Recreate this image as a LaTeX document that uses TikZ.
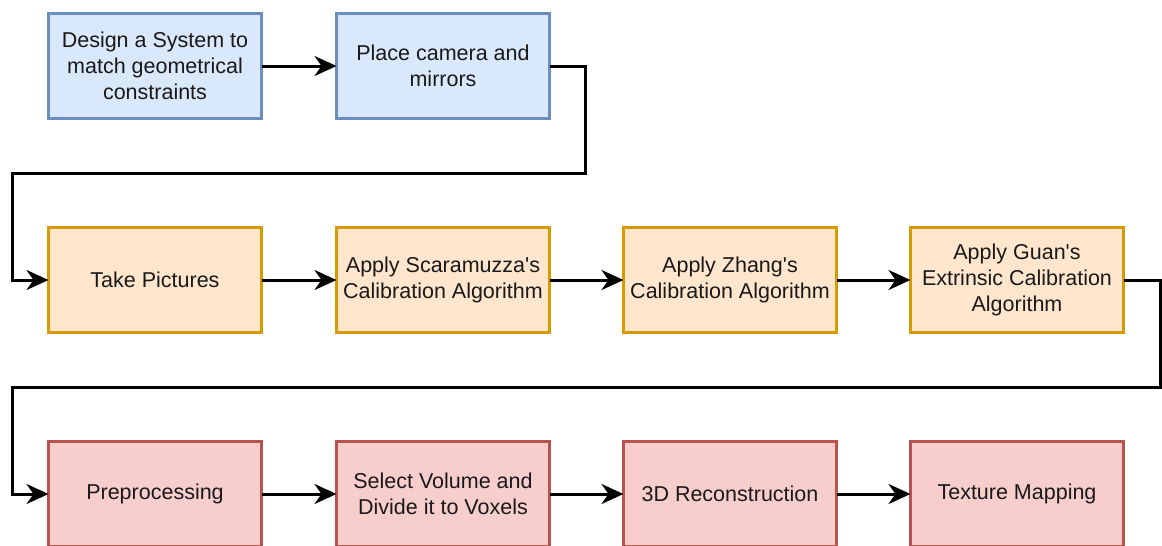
\documentclass[tikz,border=0pt]{standalone}
\usepackage{fontspec}
\setmainfont{Liberation Sans}
\usetikzlibrary{arrows.meta}
\definecolor{bfill}{HTML}{DAE8FC}\definecolor{bline}{HTML}{6C8EBF}
\definecolor{ofill}{HTML}{FFE6CC}\definecolor{oline}{HTML}{D79B00}
\definecolor{rfill}{HTML}{F8CECC}\definecolor{rline}{HTML}{B85450}
\begin{document}
\begin{tikzpicture}[x=1pt,y=-1pt,line join=miter,
  stepbox/.style={draw,line width=3pt,minimum width=213pt,minimum height=105pt,inner sep=0pt,outer sep=0pt,anchor=center,align=center,font=\fontsize{21.5pt}{26pt}\selectfont,text=black!90},
  bluebox/.style={stepbox,fill=bfill,draw=bline},
  orangebox/.style={stepbox,fill=ofill,draw=oline},
  redbox/.style={stepbox,fill=rfill,draw=rline},
  conn/.style={line width=3pt,-{Stealth[length=22pt,width=20pt,inset=7pt]}}]
\useasboundingbox (0,0) rectangle (1162,546);
\clip (0,0) rectangle (1162,546);
\node[bluebox] (a) at (155,66) {Design a System to\\match geometrical\\constraints};
\node[bluebox] (b) at (443,66) {Place camera and\\mirrors};
\node[orangebox] (c) at (155,280) {Take Pictures};
\node[orangebox] (d) at (443,280) {Apply Scaramuzza\textquotesingle s\\Calibration Algorithm};
\node[orangebox] (e) at (730,280) {Apply Zhang\textquotesingle s\\Calibration Algorithm};
\node[orangebox] (f) at (1017,280) {Apply Guan\textquotesingle s\\Extrinsic Calibration\\Algorithm};
\node[redbox] (g) at (155,494) {Preprocessing};
\node[redbox] (h) at (443,494) {Select Volume and\\Divide it to Voxels};
\node[redbox] (i) at (730,494) {3D Reconstruction};
\node[redbox] (j) at (1017,494) {Texture Mapping};
\coordinate (b1) at (585,66);
\coordinate (b2) at (585,173);
\coordinate (b3) at (12,173);
\coordinate (b4) at (12,280);
\coordinate (f1) at (1160,280);
\coordinate (f2) at (1160,387);
\coordinate (f3) at (12,387);
\coordinate (f4) at (12,494);
\draw[conn] (a.east) -- (b.west);
\draw[conn] (b.east) -- (b1) -- (b2) -- (b3) -- (b4) -- (c.west);
\draw[conn] (c.east) -- (d.west);
\draw[conn] (d.east) -- (e.west);
\draw[conn] (e.east) -- (f.west);
\draw[conn] (f.east) -- (f1) -- (f2) -- (f3) -- (f4) -- (g.west);
\draw[conn] (g.east) -- (h.west);
\draw[conn] (h.east) -- (i.west);
\draw[conn] (i.east) -- (j.west);
\end{tikzpicture}
\end{document}
